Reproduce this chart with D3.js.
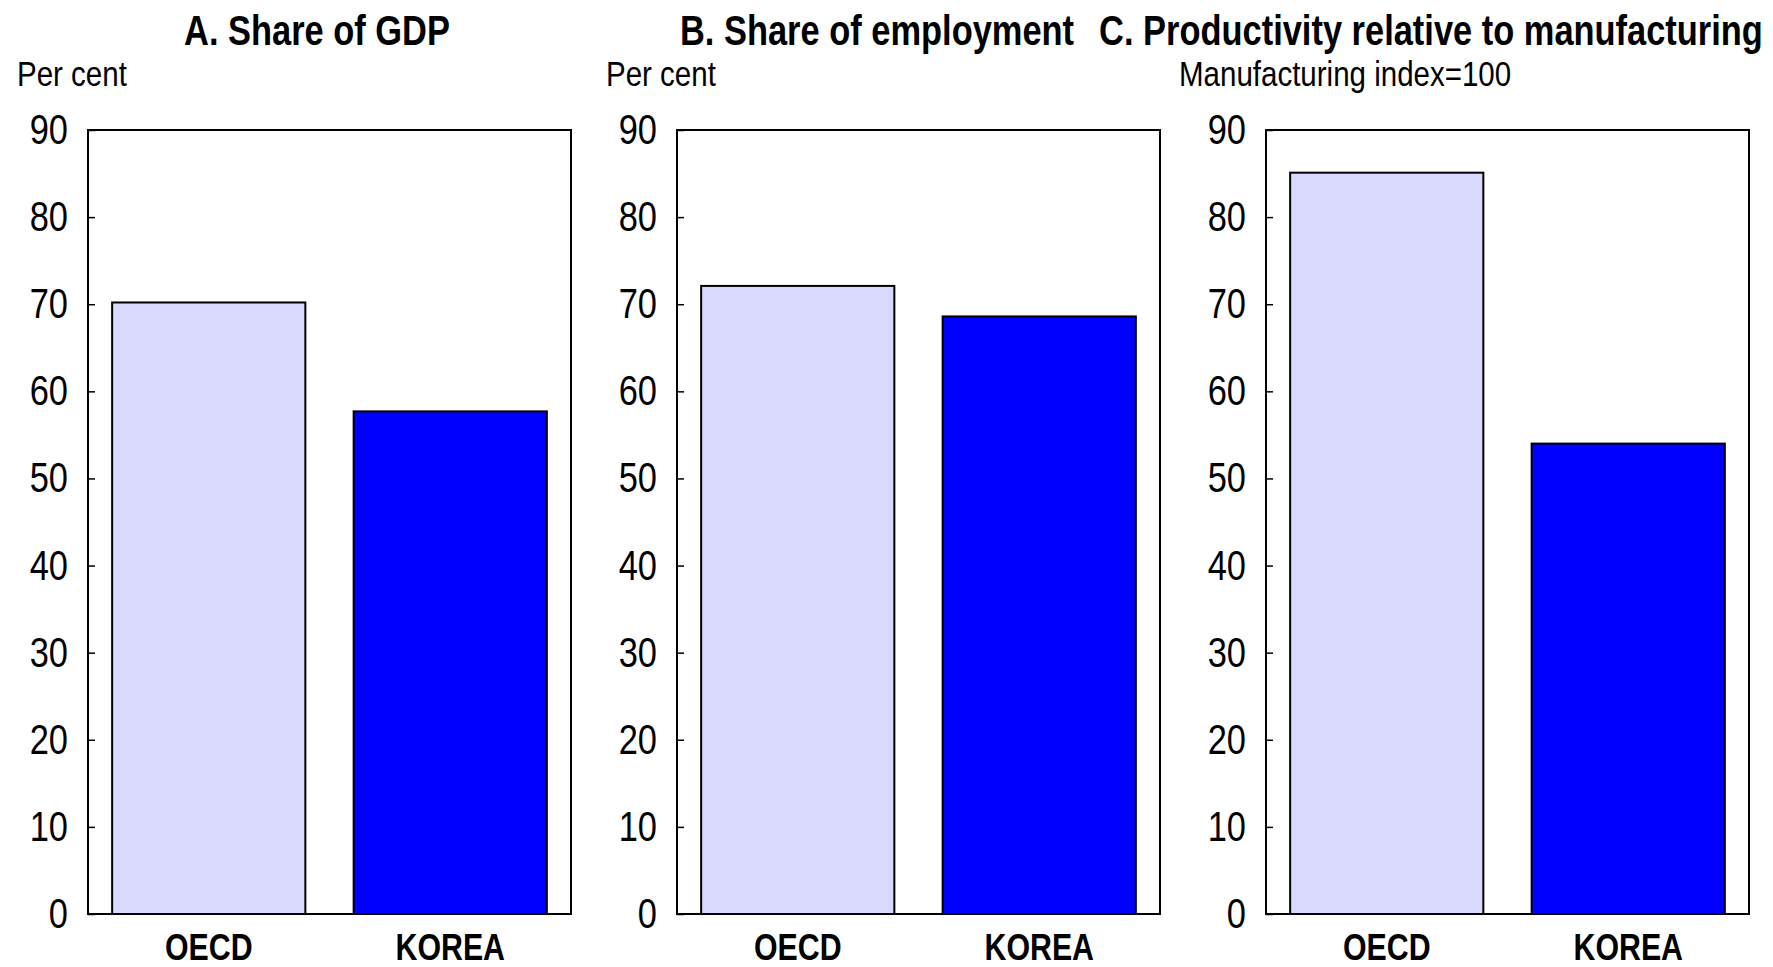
<!DOCTYPE html>
<html>
<head>
<meta charset="utf-8">
<script src="https://cdn.jsdelivr.net/npm/d3@7"></script>
<style>
  html, body { margin: 0; padding: 0; background: #fff; }
  svg { display: block; }
  text { font-family: "Liberation Sans", Arial, sans-serif; fill: #000; }
  .narrow-end { transform-box: fill-box; transform-origin: right center; transform: scaleX(0.82); }
  .narrow-mid { transform-box: fill-box; transform-origin: center center; transform: scaleX(0.82); }
  .narrow-start { transform-box: fill-box; transform-origin: left center; transform: scaleX(0.82); }
</style>
</head>
<body>
<svg id="chart" width="1773" height="967"></svg>
<script>
const categories = ["OECD", "KOREA"];
const panelTitles = ["A. Share of GDP", "B. Share of employment", "C. Productivity relative to manufacturing"];
const unitLabels = ["Per cent", "Per cent", "Manufacturing index=100"];
const shareOfGDP = [70.2, 57.7];
const shareOfEmployment = [72.1, 68.6];
const productivity = [85.1, 54.0];
const yTicks = [0, 10, 20, 30, 40, 50, 60, 70, 80, 90];
const barColors = ["#D9D9FF", "#0000FF"];

const panelValues = [shareOfGDP, shareOfEmployment, productivity];

const svg = d3.select("#chart");
const frameTop = 130, frameBottom = 914, frameW = 483;
const panelLefts = [88, 677, 1266];
const unitOffsets = [71, 71, 87];
const titleCenters = [317, 877, 1431];

const y = d3.scaleLinear().domain([0, 90]).range([frameBottom, frameTop]);

panelValues.forEach((vals, i) => {
  const left = panelLefts[i];
  const g = svg.append("g");
  const x = d3.scaleBand().domain(categories).range([left, left + frameW])
    .paddingInner(0.2).paddingOuter(0.1);

  // bars
  g.selectAll("rect.bar").data(categories).join("rect")
    .attr("class", "bar")
    .attr("x", d => x(d))
    .attr("width", x.bandwidth())
    .attr("y", (d, j) => y(vals[j]))
    .attr("height", (d, j) => y(0) - y(vals[j]))
    .attr("fill", (d, j) => barColors[j])
    .attr("stroke", "#000")
    .attr("stroke-width", 2);

  // frame
  g.append("rect")
    .attr("x", left).attr("y", frameTop)
    .attr("width", frameW).attr("height", frameBottom - frameTop)
    .attr("fill", "none").attr("stroke", "#000").attr("stroke-width", 2);

  // y axis (ticks inward, labels outside)
  const yAxis = d3.axisLeft(y).tickValues(yTicks).tickSize(-7).tickPadding(20).tickFormat(d3.format("d"));
  const ya = g.append("g").attr("transform", `translate(${left},0)`).call(yAxis);
  ya.select(".domain").remove();
  ya.selectAll(".tick line").attr("stroke", "#000").attr("stroke-width", 1.5);
  ya.selectAll(".tick text").attr("font-size", 42).attr("fill", "#000")
    .attr("class", "narrow-end")
    .style("font-family", '"Liberation Sans", Arial, sans-serif');

  // x axis labels
  const xAxis = d3.axisBottom(x).tickSize(0).tickPadding(20);
  const xa = g.append("g").attr("transform", `translate(0,${frameBottom})`).call(xAxis);
  xa.select(".domain").remove();
  xa.selectAll(".tick text").attr("font-size", 37).attr("font-weight", "bold").attr("fill", "#000")
    .attr("class", "narrow-mid")
    .style("font-family", '"Liberation Sans", Arial, sans-serif');

  // title
  g.append("text")
    .attr("class", "narrow-mid")
    .attr("x", titleCenters[i]).attr("y", 45)
    .attr("text-anchor", "middle")
    .attr("font-size", 42).attr("font-weight", "bold")
    .text(panelTitles[i]);

  // unit label
  g.append("text")
    .attr("class", "narrow-start")
    .attr("x", left - unitOffsets[i]).attr("y", 86)
    .attr("font-size", 36)
    .text(unitLabels[i]);
});
</script>
</body>
</html>
